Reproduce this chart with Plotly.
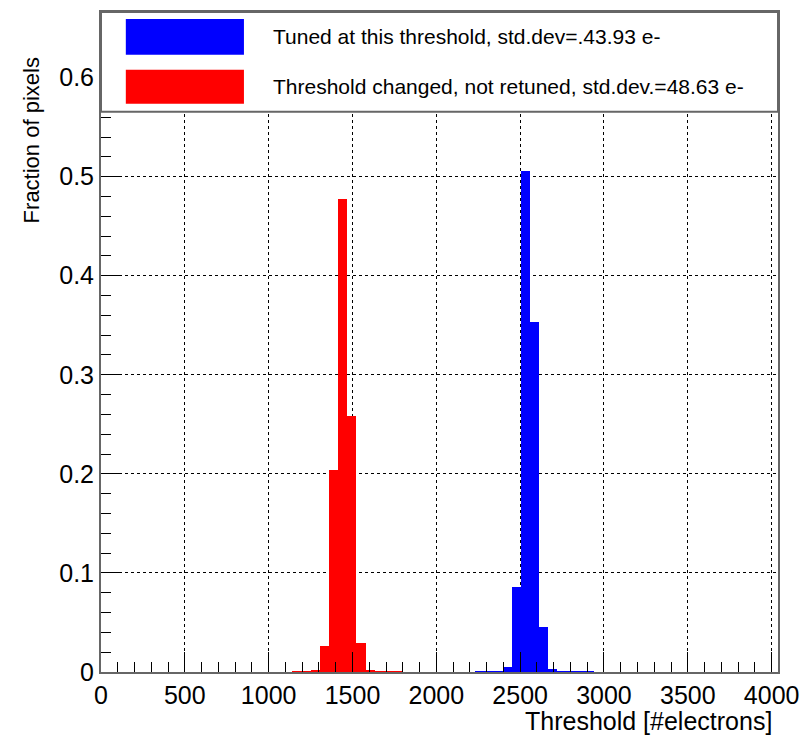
import plotly.graph_objects as go

# ---- data ----
bin_width = 54.5
red_thresholds = [1169, 1224, 1278, 1333, 1387, 1442, 1496, 1551, 1605, 1660, 1714, 1769]
red_fraction = [0.001, 0.001, 0.0023, 0.0262, 0.2036, 0.4771, 0.2584, 0.0292, 0.0022, 0.001, 0.001, 0.001]
blue_thresholds = [2259, 2314, 2368, 2423, 2477, 2532, 2586, 2641, 2695, 2750, 2804, 2859, 2913]
blue_fraction = [0.001, 0.001, 0.001, 0.0053, 0.086, 0.506, 0.3528, 0.0455, 0.0033, 0.001, 0.001, 0.001, 0.001]
blue_label = "Tuned at this threshold, std.dev=.43.93 e-"
red_label = "Threshold changed, not retuned, std.dev.=48.63 e-"
x_title = "Threshold [#electrons]"
y_title = "Fraction of pixels"

# ---- layout geometry (pixels) ----
W, H = 809, 739
ML, MR, MT, MB = 101, 26, 10, 67
PW, PH = W - ML - MR, H - MT - MB
FONT = "Liberation Sans, Arial, Helvetica, sans-serif"


def px(xp):
    return (xp - ML) / PW


def py(yp):
    return (H - MB - yp) / PH


fig = go.Figure()
fig.add_trace(go.Bar(x=blue_thresholds, y=blue_fraction, width=bin_width,
                     marker=dict(color="#0000ff", line=dict(width=0)),
                     name=blue_label, showlegend=False))
fig.add_trace(go.Bar(x=red_thresholds, y=red_fraction, width=bin_width,
                     marker=dict(color="#ff0000", line=dict(width=0)),
                     name=red_label, showlegend=False))

axis_common = dict(
    showline=True, linecolor="#666666", linewidth=2, mirror=True,
    ticks="inside", ticklen=20, tickwidth=1, tickcolor="black",
    showgrid=True, gridcolor="black", gridwidth=1, griddash="dot",
    zeroline=False,
    tickfont=dict(family=FONT, size=25, color="black"),
)

fig.update_layout(
    width=W, height=H,
    margin=dict(l=ML, r=MR, t=MT, b=MB, pad=0),
    paper_bgcolor="white", plot_bgcolor="white",
    barmode="overlay", bargap=0,
    xaxis=dict(range=[0, 4038], tick0=0, dtick=500,
               minor=dict(dtick=100, ticks="inside", ticklen=10, tickcolor="black", showgrid=False),
               **axis_common),
    yaxis=dict(range=[0, 0.6662], tick0=0, dtick=0.1,
               minor=dict(dtick=0.02, ticks="inside", ticklen=10, tickcolor="black", showgrid=False),
               **axis_common),
    font=dict(family=FONT, color="black"),
)

# legend box drawn to match ROOT style
shapes = [
    dict(type="rect", xref="paper", yref="paper", x0=0, x1=1, y0=py(110), y1=1,
         fillcolor="white", line=dict(color="#666666", width=2), layer="above"),
    dict(type="rect", xref="paper", yref="paper", x0=px(126), x1=px(245), y0=py(53), y1=py(17),
         fillcolor="#0000ff", line=dict(width=0), layer="above"),
    dict(type="rect", xref="paper", yref="paper", x0=px(126), x1=px(245), y0=py(102), y1=py(68),
         fillcolor="#ff0000", line=dict(width=0), layer="above"),
]
fig.update_layout(shapes=shapes)

annotations = [
    dict(text=blue_label, xref="paper", yref="paper", x=px(272), y=py(35),
         xanchor="left", yanchor="middle", showarrow=False,
         font=dict(family=FONT, size=21, color="black")),
    dict(text=red_label, xref="paper", yref="paper", x=px(272), y=py(85),
         xanchor="left", yanchor="middle", showarrow=False,
         font=dict(family=FONT, size=21, color="black")),
    dict(text=x_title, xref="paper", yref="paper", x=px(779), y=py(721),
         xanchor="right", yanchor="middle", showarrow=False,
         font=dict(family=FONT, size=25, color="black")),
    dict(text=y_title, xref="paper", yref="paper", x=px(31), y=py(54),
         xanchor="center", yanchor="top", textangle=-90, showarrow=False,
         font=dict(family=FONT, size=22, color="black")),
]
fig.update_layout(annotations=annotations)

fig.write_html("out.html")
